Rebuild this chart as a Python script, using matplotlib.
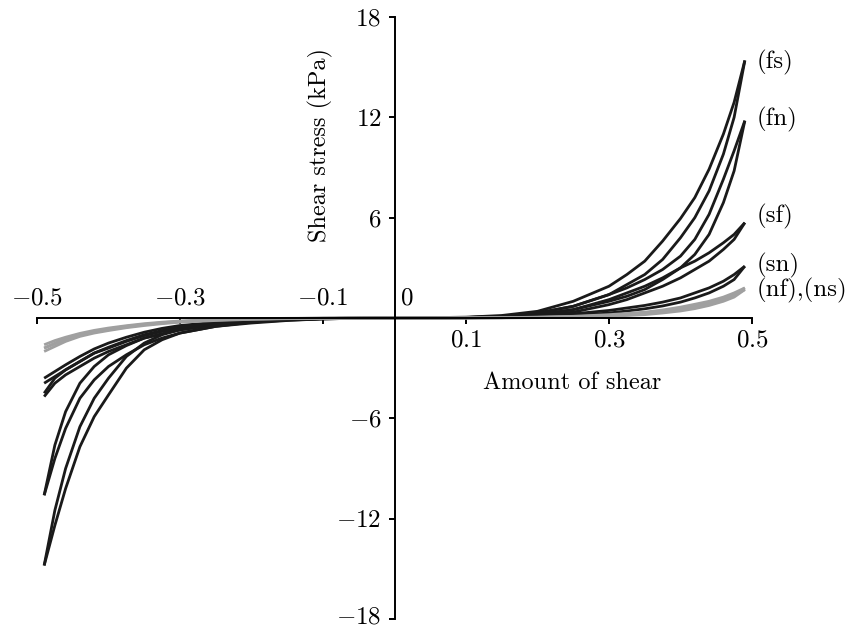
import matplotlib
matplotlib.use("Agg")
import matplotlib.pyplot as plt
import matplotlib.transforms as mtransforms

plt.rcParams['mathtext.fontset'] = 'cm'
plt.rcParams['font.family'] = ['cmr10', 'DejaVu Serif']
plt.rcParams['axes.unicode_minus'] = False

# ---- data ----
x_pos = [0.0, 0.05, 0.1, 0.15, 0.2, 0.25, 0.3, 0.325, 0.35, 0.375, 0.4, 0.42, 0.44, 0.46, 0.475, 0.49]
x_neg = [0.0, -0.05, -0.1, -0.15, -0.2, -0.25, -0.3, -0.325, -0.35, -0.375, -0.4, -0.42, -0.44, -0.46, -0.475, -0.49]

fs_pos_upper = [0, 0.02, 0.05, 0.15, 0.4, 1.0, 1.9, 2.6, 3.4, 4.6, 5.95, 7.2, 8.9, 11.0, 12.9, 15.4]
fs_pos_lower = [0, 0.01, 0.03, 0.1, 0.3, 0.7, 1.4, 2.0, 2.6, 3.5, 4.8, 6.0, 7.6, 9.8, 12.0, 15.4]
fn_pos_upper = [0, 0.01, 0.03, 0.1, 0.3, 0.7, 1.4, 1.8, 2.3, 2.9, 3.7, 4.7, 6.2, 8.3, 10.0, 11.8]
fn_pos_lower = [0, 0.01, 0.02, 0.07, 0.2, 0.5, 1.0, 1.3, 1.7, 2.3, 3.0, 3.8, 5.0, 6.9, 8.8, 11.8]
sf_pos_upper = [0, 0.01, 0.02, 0.07, 0.2, 0.5, 1.1, 1.5, 1.9, 2.4, 3.0, 3.4, 3.9, 4.5, 5.0, 5.7]
sf_pos_lower = [0, 0.0, 0.01, 0.05, 0.15, 0.35, 0.8, 1.1, 1.5, 1.9, 2.4, 2.9, 3.4, 4.1, 4.7, 5.7]
sn_pos_upper = [0, 0.0, 0.01, 0.04, 0.1, 0.25, 0.45, 0.6, 0.75, 0.95, 1.2, 1.5, 1.8, 2.2, 2.6, 3.1]
sn_pos_lower = [0, 0.0, 0.01, 0.02, 0.05, 0.15, 0.3, 0.42, 0.55, 0.72, 0.95, 1.2, 1.5, 1.9, 2.3, 3.1]
nf_pos_upper = [0, 0.0, 0.01, 0.02, 0.05, 0.1, 0.2, 0.27, 0.35, 0.48, 0.65, 0.82, 1.0, 1.25, 1.5, 1.8]
nf_pos_lower = [0, 0.0, 0.0, 0.01, 0.03, 0.06, 0.12, 0.18, 0.25, 0.36, 0.5, 0.65, 0.85, 1.1, 1.35, 1.8]
ns_pos_upper = [0, 0.0, 0.01, 0.02, 0.04, 0.08, 0.15, 0.22, 0.3, 0.41, 0.55, 0.7, 0.9, 1.15, 1.4, 1.7]
ns_pos_lower = [0, 0.0, 0.0, 0.01, 0.02, 0.05, 0.1, 0.15, 0.2, 0.3, 0.42, 0.56, 0.75, 1.0, 1.25, 1.7]

fs_neg_upper = [0, -0.01, -0.03, -0.1, -0.2, -0.35, -0.7, -1.0, -1.5, -2.3, -3.6, -4.8, -6.5, -9.0, -11.5, -14.8]
fs_neg_lower = [0, -0.02, -0.05, -0.15, -0.3, -0.5, -0.9, -1.3, -1.9, -3.0, -4.6, -5.9, -7.7, -10.2, -12.4, -14.8]
fn_neg_upper = [0, -0.01, -0.03, -0.1, -0.2, -0.4, -0.7, -0.95, -1.2, -1.65, -2.2, -2.9, -3.9, -5.6, -7.6, -10.6]
fn_neg_lower = [0, -0.02, -0.05, -0.13, -0.25, -0.5, -0.9, -1.2, -1.6, -2.2, -2.9, -3.7, -4.8, -6.6, -8.4, -10.6]
sf_neg_upper = [0, -0.01, -0.03, -0.08, -0.15, -0.33, -0.6, -0.8, -1.05, -1.4, -1.8, -2.1, -2.6, -3.1, -3.6, -4.5]
sf_neg_lower = [0, -0.02, -0.05, -0.1, -0.2, -0.4, -0.7, -0.95, -1.2, -1.6, -2.0, -2.4, -2.9, -3.4, -3.9, -4.7]
sn_neg_upper = [0, -0.01, -0.02, -0.05, -0.1, -0.25, -0.45, -0.62, -0.85, -1.15, -1.5, -1.85, -2.3, -2.8, -3.2, -3.6]
sn_neg_lower = [0, -0.01, -0.03, -0.07, -0.15, -0.3, -0.55, -0.75, -1.0, -1.35, -1.75, -2.1, -2.6, -3.1, -3.5, -3.9]
nf_neg_upper = [0, 0.0, -0.01, -0.03, -0.05, -0.1, -0.2, -0.28, -0.38, -0.5, -0.65, -0.8, -1.0, -1.25, -1.5, -1.8]
nf_neg_lower = [0, -0.01, -0.02, -0.04, -0.08, -0.15, -0.25, -0.34, -0.45, -0.58, -0.75, -0.9, -1.1, -1.4, -1.7, -2.0]
ns_neg_upper = [0, 0.0, -0.01, -0.02, -0.04, -0.09, -0.18, -0.25, -0.34, -0.46, -0.6, -0.74, -0.92, -1.15, -1.35, -1.6]
ns_neg_lower = [0, 0.0, -0.01, -0.03, -0.06, -0.12, -0.22, -0.3, -0.4, -0.54, -0.7, -0.85, -1.03, -1.3, -1.55, -1.8]

series_labels = ["(fs)", "(fn)", "(sf)", "(sn)", "(nf),(ns)"]
label_y = [15.3, 11.85, 6.06, 3.13, 1.64]

x_tick_values = [-0.5, -0.3, -0.1, 0.1, 0.3, 0.5]
x_tick_labels = ["$-0.5$", "$-0.3$", "$-0.1$", "$0.1$", "$0.3$", "$0.5$"]
y_tick_values = [-18, -12, -6, 6, 12, 18]
y_tick_labels = ["$-18$", "$-12$", "$-6$", "$6$", "$12$", "$18$"]

# ---- figure ----
W, H = 849, 628
fig = plt.figure(figsize=(W / 100, H / 100), dpi=100)
ax = fig.add_axes([37 / W, 1 - 619 / H, 715 / W, 602 / H])
ax.set_xlim(-0.5, 0.5)
ax.set_ylim(-18, 18)

for s in ("top", "right"):
    ax.spines[s].set_visible(False)
ax.spines["left"].set_position(("data", 0))
ax.spines["bottom"].set_position(("data", 0))
for s in ("left", "bottom"):
    ax.spines[s].set_linewidth(1.4)
    ax.spines[s].set_color("black")

ax.set_xticks(x_tick_values)
ax.set_xticklabels([""] * len(x_tick_values))
ax.tick_params(axis="x", direction="out", length=4.5, width=1.4, color="black")
ax.set_yticks(y_tick_values)
ax.set_yticklabels(y_tick_labels, fontsize=18)
ax.tick_params(axis="y", direction="out", length=4.5, width=1.4, pad=5, color="black")
# nudge the bottom-most label up a little so it stays inside the canvas
lowest = ax.get_yticklabels()[0]
lowest.set_transform(lowest.get_transform() +
                     mtransforms.ScaledTranslation(0, 3 / 72, fig.dpi_scale_trans))

black = "#1a1a1a"
gray = "#a0a0a0"
lw = 2.0

gray_branches = [
    (x_pos, nf_pos_upper), (x_pos, nf_pos_lower),
    (x_pos, ns_pos_upper), (x_pos, ns_pos_lower),
    (x_neg, nf_neg_upper), (x_neg, nf_neg_lower),
    (x_neg, ns_neg_upper), (x_neg, ns_neg_lower),
]
black_branches = [
    (x_pos, fs_pos_upper), (x_pos, fs_pos_lower),
    (x_pos, fn_pos_upper), (x_pos, fn_pos_lower),
    (x_pos, sf_pos_upper), (x_pos, sf_pos_lower),
    (x_pos, sn_pos_upper), (x_pos, sn_pos_lower),
    (x_neg, fs_neg_upper), (x_neg, fs_neg_lower),
    (x_neg, fn_neg_upper), (x_neg, fn_neg_lower),
    (x_neg, sf_neg_upper), (x_neg, sf_neg_lower),
    (x_neg, sn_neg_upper), (x_neg, sn_neg_lower),
]
for xs, ys in black_branches:
    ax.plot(xs, ys, color=black, lw=lw, solid_joinstyle="round", solid_capstyle="butt")
for xs, ys in gray_branches:
    ax.plot(xs, ys, color=gray, lw=lw, solid_joinstyle="round", solid_capstyle="butt")

# x tick labels: negatives above the axis, positives below
for v, t in zip(x_tick_values, x_tick_labels):
    if v < 0:
        ax.text(v, 1.15, t, ha="center", va="center", fontsize=18)
    else:
        ax.text(v, -1.35, t, ha="center", va="center", fontsize=18)
ax.text(0.0175, 1.15, "$0$", ha="center", va="center", fontsize=18)

for lab, yv in zip(series_labels, label_y):
    ax.text(0.507, yv, lab, ha="left", va="center", fontsize=18, clip_on=False)

ax.text(0.248, -3.9, "Amount of shear", ha="center", va="center", fontsize=17.5)
ax.text(-0.103, 10.36, "Shear stress (kPa)", ha="center", va="center",
        rotation=90, fontsize=17.5)

fig.savefig("out.png", dpi=100)
